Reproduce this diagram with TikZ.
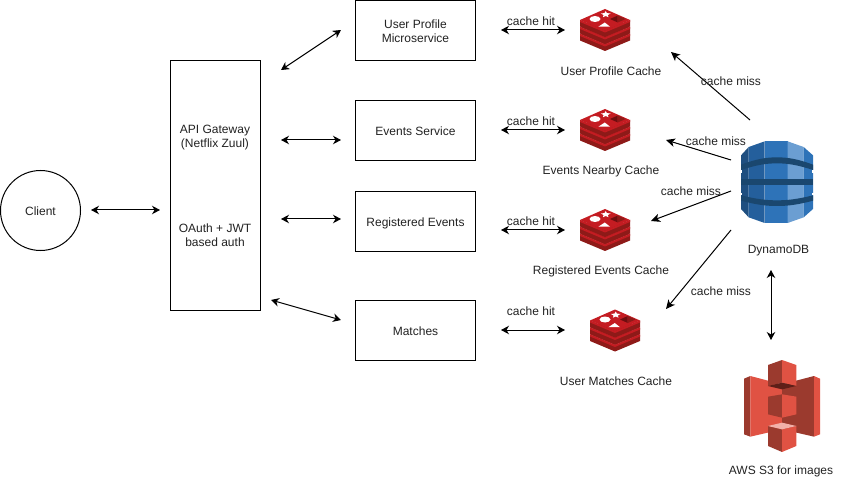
\documentclass[tikz,border=0pt]{standalone}
\usepackage{fontspec}
\setmainfont{Liberation Sans}
\usetikzlibrary{arrows.meta}
\definecolor{txt}{HTML}{222222}
\definecolor{rdTop}{HTML}{C41C22}
\definecolor{rdSide}{HTML}{8E1A18}
\definecolor{rdDark}{HTML}{6E0E10}
\definecolor{dbNavy}{HTML}{1A476F}
\definecolor{dbLeft}{HTML}{1F4F80}
\definecolor{dbMid}{HTML}{245F9C}
\definecolor{dbBright}{HTML}{2E73B8}
\definecolor{dbLight}{HTML}{6B9ED2}
\definecolor{sRed}{HTML}{E05243}
\definecolor{sDark}{HTML}{9B3A2E}
\definecolor{sDeep}{HTML}{5E1F18}
\definecolor{sPale}{HTML}{F2B0A9}
\newcommand\dn[1]{\raisebox{-2pt}[\height][\depth]{\begin{tabular}{@{}c@{}}#1\end{tabular}}}
\tikzset{
  boxnode/.style={draw=black,line width=1pt,fill=white,inner sep=0pt,align=center,text=txt,font=\fontsize{12}{14.2}\selectfont},
  lab/.style={text=txt,font=\fontsize{12}{14.2}\selectfont,inner sep=0pt,align=center},
  link/.style={line width=1pt,draw=black,{Stealth[length=8pt,width=8.5pt,inset=2.5pt]}-{Stealth[length=8pt,width=8.5pt,inset=2.5pt]}},
  miss/.style={line width=1pt,draw=black,-{Stealth[length=9pt,width=8.5pt,inset=2.5pt]}},
  redisicon/.pic={
    \foreach \d in {14,7,0}{
      \fill[rdSide] (-25,-9.5+\d) -- (0,1+\d) -- (25,-9.5+\d) -- (25,-3+\d) -- (0,7.5+\d) -- (-25,-3+\d) -- cycle;
      \fill[rdTop] (-25,-9.5+\d) -- (0,1+\d) -- (25,-9.5+\d) -- (25,-7.5+\d) -- (0,3+\d) -- (-25,-7.5+\d) -- cycle;
      \fill[rdTop] (0,-20.5+\d) -- (25,-9.5+\d) -- (0,1+\d) -- (-25,-9.5+\d) -- cycle;
    }
    \fill[white] (-10,-10.5) ellipse [x radius=5.5, y radius=3];
    \fill[white] (.7,-18.5) -- (1.9,-16.4) -- (5.5,-16) -- (2.8,-14.4) -- (3.5,-12.3) -- (.7,-13.5) -- (-2.1,-12.3) -- (-1.4,-14.4) -- (-4.1,-16) -- (-.5,-16.4) -- cycle;
    \fill[white] (-6.7,-2.8) -- (5,-2.8) -- (-.2,-7) -- cycle;
    \fill[rdDark] (5,-10.5) -- (12.7,-14) -- (12.7,-7) -- cycle;
    \fill[rdSide] (12.7,-14) -- (20.7,-10.5) -- (12.7,-7) -- cycle;
  },
  dynamoicon/.pic={
    \begin{scope}[x=.3333pt,y=-.3333pt,shift={(-140,-152)}]
      \fill[dbLeft] (32,72) -- (55,47) -- (55,258) -- (32,233) -- cycle;
      \fill[dbMid] (55,47) -- (103,30) -- (103,275) -- (55,258) -- cycle;
      \fill[dbBright] (103,30) -- (172,30) -- (172,275) -- (103,275) -- cycle;
      \fill[dbLight] (172,30) -- (220,47) -- (220,258) -- (172,275) -- cycle;
      \fill[dbBright] (220,47) -- (248,72) -- (248,233) -- (220,258) -- cycle;
      \fill[dbNavy] (32,100) .. controls (80,82) and (110,78) .. (140,78) .. controls (170,78) and (200,82) .. (248,100) -- (248,116) .. controls (200,100) and (170,96) .. (140,96) .. controls (110,96) and (80,100) .. (32,116) -- cycle;
      \fill[dbNavy] (32,144) -- (248,144) -- (248,160) -- (32,160) -- cycle;
      \fill[dbNavy] (32,192) .. controls (80,204) and (110,207) .. (140,207) .. controls (170,207) and (200,204) .. (248,192) -- (248,208) .. controls (200,221) and (170,224) .. (140,224) .. controls (110,224) and (80,221) .. (32,208) -- cycle;
      \fill[white] (28,116) rectangle (35,124);
      \fill[white] (245,116) rectangle (252,124);
      \fill[white] (28,184) rectangle (35,192);
      \fill[white] (245,184) rectangle (252,192);
    \end{scope}
  },
  sthreeicon/.pic={
    \begin{scope}[x=.3333pt,y=-.3333pt,shift={(-142,-170)}]
      \fill[sDark] (28,88) -- (47,80) -- (47,262) -- (28,255) -- cycle;
      \fill[sRed] (47,80) -- (142,105) -- (142,240) -- (47,262) -- cycle;
      \fill[sDark] (142,105) -- (238,80) -- (238,262) -- (142,240) -- cycle;
      \fill[sRed] (238,80) -- (256,88) -- (256,255) -- (238,262) -- cycle;
      \fill[sDark] (100,47) -- (142,32) -- (142,100) -- (100,110) -- cycle;
      \fill[sRed] (142,32) -- (185,47) -- (185,110) -- (142,100) -- cycle;
      \fill[sDeep] (100,110) -- (142,100) -- (185,110) -- (142,120) -- cycle;
      \fill[sDark] (100,142) -- (142,135) -- (142,205) -- (100,195) -- cycle;
      \fill[sRed] (142,135) -- (185,142) -- (185,195) -- (142,205) -- cycle;
      \fill[sDark] (100,230) -- (142,240) -- (142,308) -- (100,290) -- cycle;
      \fill[sRed] (142,240) -- (185,230) -- (185,290) -- (142,308) -- cycle;
      \fill[sPale] (100,230) -- (142,220) -- (185,230) -- (142,240) -- cycle;
    \end{scope}
  }
}
\begin{document}
\begin{tikzpicture}[x=1pt,y=-1pt]
\useasboundingbox (0,0) rectangle (841,481);
% main shapes
\node[boxnode,circle,minimum size=80pt] (client) at (40.5,210.5) {\dn{Client}};
\node[boxnode,minimum width=90pt,minimum height=250pt] (gw) at (215.5,185.5) {};
\node[lab] (gwa) at (215,137.5) {API Gateway\\(Netflix Zuul)};
\node[lab] (gwb) at (215,235) {OAuth + JWT\\based auth};
\node[boxnode,minimum width=120pt,minimum height=60pt] (up) at (415.5,30.5) {\dn{User Profile\\Microservice}};
\node[boxnode,minimum width=120pt,minimum height=60pt] (ev) at (415.5,130.5) {\dn{Events Service}};
\node[boxnode,minimum width=120pt,minimum height=60pt] (re) at (415.5,221.5) {\dn{Registered Events}};
\node[boxnode,minimum width=120pt,minimum height=60pt] (ma) at (415.5,330.5) {\dn{Matches}};
% icons
\pic (r1) at (605,29.5) {redisicon};
\pic (r2) at (605,129.5) {redisicon};
\pic (r3) at (605,229.5) {redisicon};
\pic (r4) at (615,330) {redisicon};
\pic (ddb) at (777,182) {dynamoicon};
\pic (s3) at (782,406) {sthreeicon};
% icon labels
\node[lab] (l1) at (611,71) {User Profile Cache};
\node[lab] (l2) at (601,171) {Events Nearby Cache};
\node[lab] (l3) at (601,271) {Registered Events Cache};
\node[lab] (l4) at (616,381) {User Matches Cache};
\node[lab] (l5) at (778.5,251) {DynamoDB};
\node[lab] (l6) at (781,471) {AWS S3 for images};
% connector ends
\coordinate (a1) at (91,210);   \coordinate (a2) at (160,210);
\coordinate (b1) at (281,70);   \coordinate (b2) at (341,30);
\coordinate (c1) at (281,140);  \coordinate (c2) at (341,140);
\coordinate (d1) at (281,219);  \coordinate (d2) at (341,219);
\coordinate (e1) at (271,300);  \coordinate (e2) at (341,320);
\coordinate (h1a) at (501,30);  \coordinate (h1b) at (565,30);
\coordinate (h2a) at (501,130); \coordinate (h2b) at (565,130);
\coordinate (h3a) at (501,230); \coordinate (h3b) at (565,230);
\coordinate (h4a) at (501,330); \coordinate (h4b) at (565,330);
\coordinate (m1a) at (750,120); \coordinate (m1b) at (671,52);
\coordinate (m2a) at (731,160); \coordinate (m2b) at (666,140);
\coordinate (m3a) at (731,191); \coordinate (m3b) at (651,221);
\coordinate (m4a) at (731,230); \coordinate (m4b) at (666,309);
\coordinate (v1) at (771,270);  \coordinate (v2) at (771,340);
% connectors
\draw[link] (a1) -- (a2);
\draw[link] (b1) -- (b2);
\draw[link] (c1) -- (c2);
\draw[link] (d1) -- (d2);
\draw[link] (e1) -- (e2);
\draw[link] (h1a) -- (h1b);
\draw[link] (h2a) -- (h2b);
\draw[link] (h3a) -- (h3b);
\draw[link] (h4a) -- (h4b);
\draw[miss] (m1a) -- (m1b);
\draw[miss] (m2a) -- (m2b);
\draw[miss] (m3a) -- (m3b);
\draw[miss] (m4a) -- (m4b);
\draw[link] (v1) -- (v2);
% connector labels
\node[lab] (t1) at (531,21) {cache hit};
\node[lab] (t2) at (531,121) {cache hit};
\node[lab] (t3) at (531,221) {cache hit};
\node[lab] (t4) at (531,311) {cache hit};
\node[lab] (t5) at (731,81) {cache miss};
\node[lab] (t6) at (716,141) {cache miss};
\node[lab] (t7) at (691,191) {cache miss};
\node[lab] (t8) at (721,291) {cache miss};
\end{tikzpicture}
\end{document}
